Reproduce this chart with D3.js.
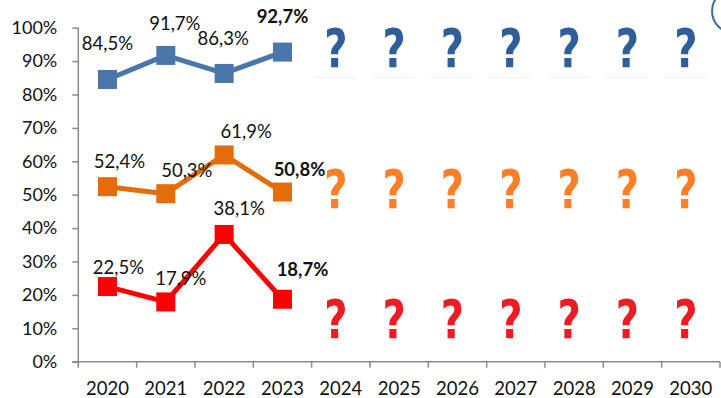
<!DOCTYPE html>
<html>
<head>
<meta charset="utf-8">
<script src="https://cdn.jsdelivr.net/npm/d3@7/dist/d3.min.js"></script>
<style>
  html, body { margin: 0; padding: 0; background: #fff; }
  svg { display: block; }
  text { font-family: Lato, "Open Sans", sans-serif; }
</style>
</head>
<body>
<svg id="chart" width="721" height="398"></svg>
<script>
// Years on the axis: observed years followed by the open forecast years
const years = ["2020","2021","2022","2023","2024","2025","2026","2027","2028","2029","2030"];
const observedYears = ["2020","2021","2022","2023"];
const forecastYears = ["2024","2025","2026","2027","2028","2029","2030"];

// Series values (percent)
const blueValues   = [84.5, 91.7, 86.3, 92.7];
const orangeValues = [52.4, 50.3, 61.9, 50.8];
const redValues    = [22.5, 17.9, 38.1, 18.7];

// Level (percent) at which each row of "?" placeholders sits
const placeholderLevels = { blue: 93.8, orange: 51.7, red: 12.8 };

const yTicks = [0,10,20,30,40,50,60,70,80,90,100];

// Label offsets from each marker (px): [dx, dy]
const labelOffsets = {
  blue:   [[0,-29],[9,-25],[-1,-28],[0,-29]],
  orange: [[12,-19],[21,-17],[22,-17],[17,-16]],
  red:    [[11,-13],[15,-17],[15,-19],[20,-23]]
};

const svg = d3.select("#chart");
const plot = { left: 78.3, right: 720, top: 27.7, bottom: 361.7 };

const x = d3.scaleBand().domain(years).range([plot.left, plot.right]);
const y = d3.scaleLinear().domain([0, 100]).range([plot.bottom, plot.top]);
const cx = d => x(d) + x.bandwidth() / 2;

const axisColor = "#8c8c8c";

// Blur used for the placeholder glyphs
const defs = svg.append("defs");
defs.append("filter").attr("id", "soft")
  .attr("x", "-20%").attr("y", "-20%").attr("width", "140%").attr("height", "140%")
  .append("feGaussianBlur").attr("stdDeviation", 0.7);

// Y axis
const yAxis = svg.append("g")
  .attr("transform", `translate(${plot.left},0)`)
  .call(d3.axisLeft(y).tickValues(yTicks).tickSize(6).tickPadding(15)
        .tickFormat(d => d + "%"));
yAxis.select(".domain").attr("stroke", axisColor).attr("stroke-width", 1.5)
  .attr("d", `M0,${plot.top}V${plot.bottom}`);
yAxis.selectAll(".tick line").attr("stroke", axisColor).attr("stroke-width", 1.5);
yAxis.selectAll(".tick text").attr("fill", "#111").style("font-size", "18px")
  .style("font-family", "Lato, sans-serif");

// X axis with ticks on category boundaries
const xAxisG = svg.append("g").attr("transform", `translate(0,${plot.bottom})`);
xAxisG.append("line").attr("x1", plot.left - 6).attr("x2", plot.right).attr("y1", 0).attr("y2", 0)
  .attr("stroke", axisColor).attr("stroke-width", 1.5);
const boundaries = years.map(d => x(d)).concat([plot.right]);
xAxisG.selectAll("line.tk").data(boundaries).join("line").attr("class", "tk")
  .attr("x1", d => d).attr("x2", d => d).attr("y1", 0).attr("y2", 6)
  .attr("stroke", axisColor).attr("stroke-width", 1.5);
xAxisG.selectAll("text").data(years).join("text")
  .attr("x", d => cx(d)).attr("y", 33.5)
  .attr("text-anchor", "middle").attr("fill", "#111")
  .style("font-size", "18.5px").text(d => d);

// Series
const series = [
  { key: "blue",   values: blueValues,   color: "#4A76AC", qColor: "#2F5F99", qFont: "DejaVu Sans" },
  { key: "orange", values: orangeValues, color: "#E46C0A", qColor: "#FF7F27", qFont: "Verdana, DejaVu Sans" },
  { key: "red",    values: redValues,    color: "#FF0000", qColor: "#ED1C24", qFont: "DejaVu Sans" }
];

const line = d3.line().x(d => cx(d.year)).y(d => y(d.value));

series.forEach(s => {
  const pts = observedYears.map((yr, i) => ({ year: yr, value: s.values[i] }));
  const g = svg.append("g");
  g.append("path").datum(pts).attr("d", line)
    .attr("fill", "none").attr("stroke", s.color).attr("stroke-width", 5)
    .attr("stroke-linejoin", "round");
  g.selectAll("rect").data(pts).join("rect")
    .attr("x", d => cx(d.year) - 9.5).attr("y", d => y(d.value) - 9.5)
    .attr("width", 19).attr("height", 19).attr("fill", s.color);
  g.selectAll("text").data(pts).join("text")
    .attr("x", (d, i) => cx(d.year) + labelOffsets[s.key][i][0])
    .attr("y", (d, i) => y(d.value) + labelOffsets[s.key][i][1])
    .attr("text-anchor", "middle").attr("fill", "#111")
    .style("font-size", "18.5px")
    .style("font-weight", (d, i) => i === pts.length - 1 ? "bold" : "normal")
    .text(d => d.value.toFixed(1).replace(".", ",") + "%");

  // Placeholder "?" for the forecast years
  const qy = y(placeholderLevels[s.key]);
  const q = svg.append("g").attr("filter", "url(#soft)");
  if (s.key === "blue") {
    q.selectAll("line").data(forecastYears).join("line")
      .attr("x1", d => cx(d) - 27).attr("x2", d => cx(d) + 16)
      .attr("y1", qy + 29).attr("y2", qy + 29)
      .attr("stroke", "#f1f1f1").attr("stroke-width", 1);
  }
  q.selectAll("text").data(forecastYears).join("text")
    .attr("transform", d => `translate(${cx(d) - 5},${qy + 19}) scale(0.76,1)`)
    .attr("text-anchor", "middle").attr("fill", s.qColor)
    .style("font-family", s.qFont).style("font-weight", "bold")
    .style("font-size", "53px").text("?");
});

// Partial circle in the top-right corner
svg.append("circle").attr("cx", 734).attr("cy", 11).attr("r", 22)
  .attr("fill", "none").attr("stroke", "#3F6D9F").attr("stroke-width", 2);
</script>
</body>
</html>
